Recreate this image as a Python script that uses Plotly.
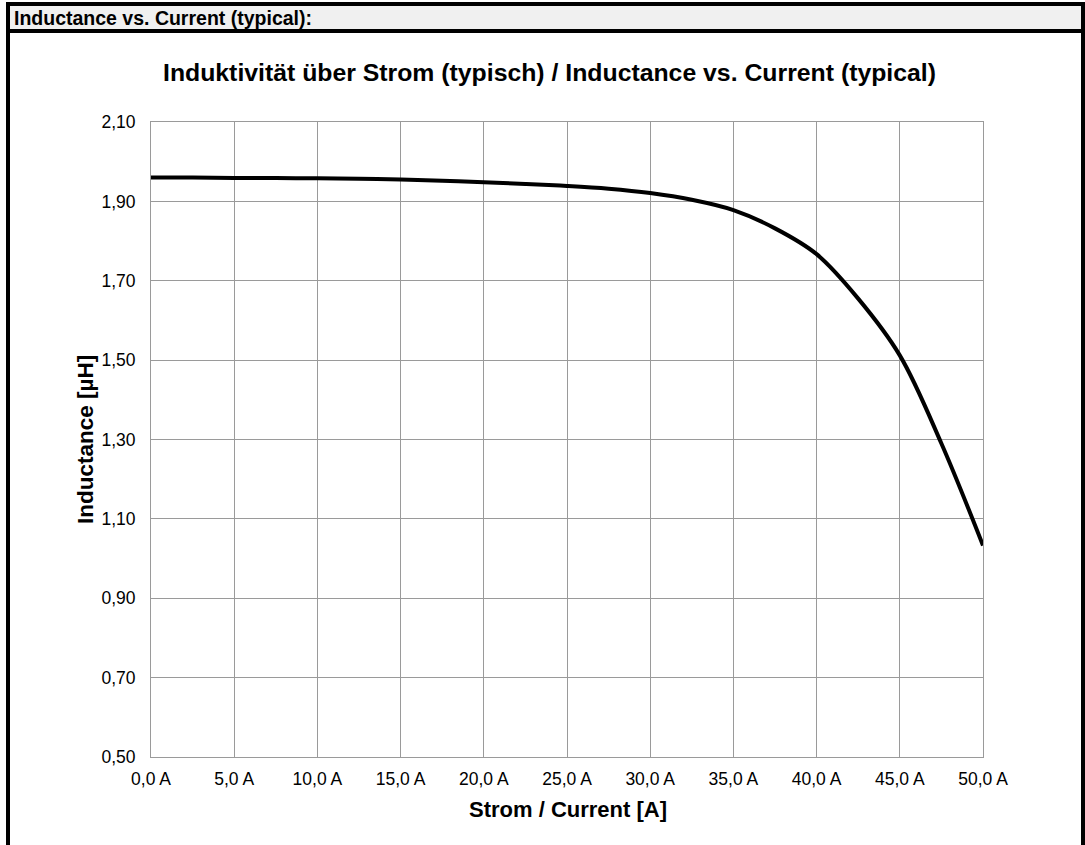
import plotly.graph_objects as go

# Data
current_a = [0, 2.5, 5, 7.5, 10, 12.5, 15, 17.5, 20, 22.5, 25, 27.5, 30, 32.5, 35, 37.5, 40, 42.5, 45, 47.5, 50]
inductance_uh = [1.960, 1.960, 1.959, 1.959, 1.958, 1.957, 1.955, 1.952, 1.948, 1.944, 1.939, 1.932, 1.921, 1.904, 1.878, 1.832, 1.767, 1.655, 1.512, 1.290, 1.033]

x_tick_vals = [0, 5, 10, 15, 20, 25, 30, 35, 40, 45, 50]
x_tick_text = ["0,0 A", "5,0 A", "10,0 A", "15,0 A", "20,0 A", "25,0 A", "30,0 A", "35,0 A", "40,0 A", "45,0 A", "50,0 A"]
y_tick_vals = [0.5, 0.7, 0.9, 1.1, 1.3, 1.5, 1.7, 1.9, 2.1]
y_tick_text = ["0,50", "0,70", "0,90", "1,10", "1,30", "1,50", "1,70", "1,90", "2,10"]

W, H = 1085, 845
L, R, T, B = 151, 102, 122, 88
PW, PH = W - L - R, H - T - B

def px(p):
    return (p - L) / PW

def py(p):
    return (H - B - p) / PH

FONT = "Liberation Sans, Arial, sans-serif"

fig = go.Figure()
fig.add_trace(go.Scatter(
    x=current_a, y=inductance_uh, mode="lines",
    line=dict(color="black", width=4, shape="spline", smoothing=1.0),
    hoverinfo="x+y", showlegend=False,
))

shapes = []
def rect(x0, y0, x1, y1, color):
    shapes.append(dict(type="rect", xref="paper", yref="paper",
                       x0=px(x0), x1=px(x1), y0=py(y1), y1=py(y0),
                       fillcolor=color, line=dict(width=0), layer="above"))

# header band and frame
rect(10, 6, 1081, 29, "#f0f0f0")
rect(6, 2, 1085, 6, "black")
rect(6, 2, 10, 845, "black")
rect(1081, 2, 1085, 845, "black")
rect(6, 29, 1085, 33, "black")

annotations = [
    dict(text="<b>Inductance vs. Current (typical):</b>", xref="paper", yref="paper",
         x=px(12), y=py(18), xanchor="left", yanchor="middle", showarrow=False,
         font=dict(family=FONT, size=19.5, color="black")),
    dict(text="<b>Induktivität über Strom (typisch) / Inductance vs. Current (typical)</b>",
         xref="paper", yref="paper", x=px(549), y=py(73), xanchor="center", yanchor="middle",
         showarrow=False, font=dict(family=FONT, size=24.8, color="black")),
    dict(text="<b>Strom / Current [A]</b>", xref="paper", yref="paper",
         x=px(568), y=py(809), xanchor="center", yanchor="middle", showarrow=False,
         font=dict(family=FONT, size=22, color="black")),
    dict(text="<b>Inductance [µH]</b>", xref="paper", yref="paper",
         x=px(85), y=py(440), xanchor="center", yanchor="middle", showarrow=False,
         textangle=-90, font=dict(family=FONT, size=22.5, color="black")),
]

fig.update_layout(
    width=W, height=H,
    margin=dict(l=L, r=R, t=T, b=B, pad=0),
    paper_bgcolor="white", plot_bgcolor="white",
    font=dict(family=FONT, size=17.5, color="black"),
    shapes=shapes, annotations=annotations,
    xaxis=dict(range=[0, 50], tickvals=x_tick_vals, ticktext=x_tick_text,
               showgrid=True, gridcolor="#9a9a9a", gridwidth=1,
               showline=True, linecolor="#9a9a9a", linewidth=1, mirror=True,
               ticks="", zeroline=False, fixedrange=True, ticklabelstandoff=6,
               tickfont=dict(family=FONT, size=17.5, color="black")),
    yaxis=dict(range=[0.5, 2.1], tickvals=y_tick_vals, ticktext=y_tick_text,
               showgrid=True, gridcolor="#9a9a9a", gridwidth=1,
               showline=True, linecolor="#9a9a9a", linewidth=1, mirror=True,
               ticks="", zeroline=False, fixedrange=True, ticklabelstandoff=11,
               tickfont=dict(family=FONT, size=17.5, color="black")),
)

fig.write_html("out.html", config={"displayModeBar": False},
               post_script="document.body.style.margin='0';document.body.style.overflow='hidden';")
